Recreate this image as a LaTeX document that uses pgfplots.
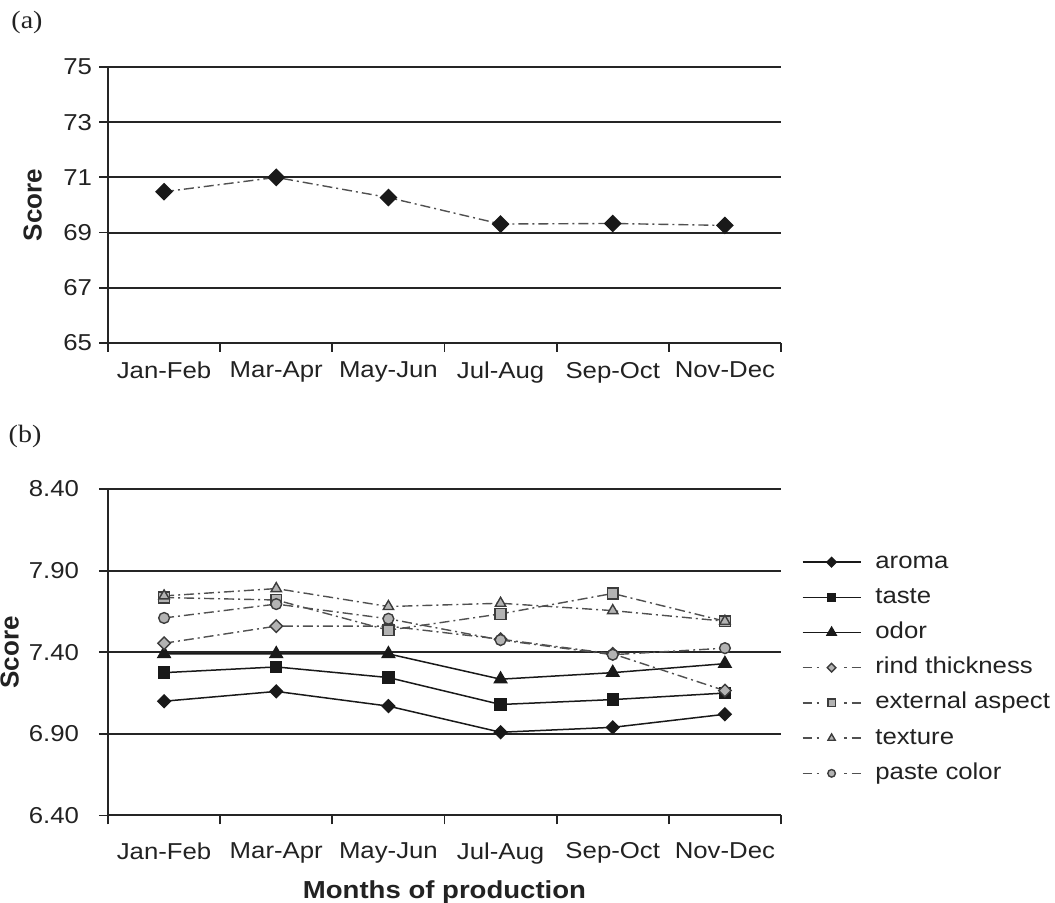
\documentclass[border=0pt]{standalone}
\usepackage{fontspec}
\setmainfont{Liberation Sans}[FakeStretch=1.12]
\newfontfamily\plainsans{Liberation Sans}
\newfontfamily\serifstr{Liberation Serif}[FakeStretch=1.12]
\usepackage{pgfplots}
\pgfplotsset{compat=1.18}

\definecolor{gridc}{HTML}{252525}
\definecolor{ddline}{HTML}{505050}
\definecolor{mfill}{HTML}{B3B3B3}
\definecolor{medge}{HTML}{3C3C3C}
\definecolor{txt}{HTML}{222222}

\pgfplotsset{
  base/.style={
    scale only axis, width=336.5pt,
    xmin=-0.5, xmax=5.5,
    axis x line*=bottom, axis y line*=left,
    axis line style={gridc, line width=1pt, -},
    ymajorgrids, grid style={gridc, line width=1pt},
    xtick={-0.5,0.5,1.5,2.5,3.5,4.5,5.5}, xticklabels={},
    extra x ticks={0,1,2,3,4,5},
    extra x tick labels={Jan-Feb,Mar-Apr,May-Jun,Jul-Aug,Sep-Oct,Nov-Dec},
    tick align=outside, major tick length=4.5pt,
    tick style={gridc, line width=0.9pt},
    tick label style={font=\fontsize{11.5}{13}\selectfont, text=txt},
    /pgf/number format/assume math mode=true,
    ylabel={Score},
    clip=false,
  },
  ddleg/.style={legend image code/.code={
    \draw[##1,solid] (0pt,0pt) -- (4.5pt,0pt);
    \draw[##1,solid] (7pt,0pt) -- (8.2pt,0pt);
    \draw[##1,solid] (20.8pt,0pt) -- (22pt,0pt);
    \draw[##1,solid] (24.5pt,0pt) -- (29pt,0pt);
    \draw[##1,every mark/.append style={scale=0.7}] plot coordinates {(14.5pt,0pt)};
  }},
  solleg/.style={legend image code/.code={
    \draw[##1] (0pt,0pt) -- (29pt,0pt);
    \draw[##1,every mark/.append style={scale=0.75}] plot coordinates {(14.5pt,0pt)};
  }},
  sol/.style={black!90, line width=0.75pt, solid, solleg},
  dd/.style={ddline, line width=0.7pt, dash pattern=on 5pt off 2pt on 1pt off 2pt, ddleg},
}

\begin{document}
\begin{tikzpicture}
\useasboundingbox (0,0) rectangle (527.5pt,451.5pt);

\node[font=\serifstr\fontsize{12.5}{14}\selectfont, text=txt] at (13.5pt,440pt) {(a)};
\node[font=\serifstr\fontsize{12.5}{14}\selectfont, text=txt] at (12.5pt,233pt) {(b)};

\begin{axis}[base, at={(54pt,280pt)}, anchor=south west, height=138pt,
  extra x tick style={major tick length=0pt, tick label style={yshift=-6pt}},
  ylabel style={font=\plainsans\bfseries\fontsize{13}{15}\selectfont, text=txt,
    at={(axis description cs:-0.112,0.5)}, anchor=center},
  ymin=65, ymax=75, ytick={65,67,69,71,73,75}]
\addplot[ddline, line width=0.7pt, dash pattern=on 5pt off 2pt on 1pt off 2pt,
  mark=square*, mark size=2.8pt, mark options={rotate=45, solid, fill=black!90, draw=black!90}]
  coordinates {(0,70.48) (1,71.0) (2,70.27) (3,69.31) (4,69.33) (5,69.26)};
\end{axis}

\begin{axis}[base, at={(54pt,43.75pt)}, anchor=south west, height=163.25pt,
  extra x tick style={major tick length=0pt, tick label style={yshift=-10pt}},
  ylabel style={font=\plainsans\bfseries\fontsize{13}{15}\selectfont, text=txt,
    at={(axis description cs:-0.146,0.5)}, anchor=center},
  ymin=6.4, ymax=8.4, ytick={6.4,6.9,7.4,7.9,8.4},
  yticklabel style={xshift=-6.5pt, /pgf/number format/.cd, fixed, fixed zerofill, precision=2},
  xlabel={Months of production},
  xlabel style={font=\bfseries\fontsize{12.3}{14}\selectfont, text=txt,
    at={(axis description cs:0.5,-0.236)}, anchor=center},
  legend style={at={(axis description cs:1.031,0.825)}, anchor=north west,
    draw=none, fill=none, inner sep=0pt, outer sep=0pt, row sep=1.6pt, column sep=5pt,
    nodes={text height=9pt, text depth=3pt, inner sep=2pt,
      font=\fontsize{11.5}{13}\selectfont, text=txt}},
  legend cell align=left]
\addplot[sol, mark=square*, mark size=2.2pt, mark options={rotate=45, solid, fill=black!90}]
  coordinates {(0,7.10) (1,7.16) (2,7.07) (3,6.91) (4,6.94) (5,7.02)};
\addlegendentry{aroma}
\addplot[sol, mark=square*, mark size=2.7pt, mark options={solid, fill=black!90}]
  coordinates {(0,7.275) (1,7.31) (2,7.245) (3,7.08) (4,7.11) (5,7.15)};
\addlegendentry{taste}
\addplot[sol, mark=triangle*, mark size=3.5pt, mark options={solid, fill=black!90}]
  coordinates {(0,7.39) (1,7.39) (2,7.39) (3,7.235) (4,7.275) (5,7.33)};
\addlegendentry{odor}
\addplot[dd, mark=square*, mark size=2.2pt, mark options={rotate=45, solid, fill=mfill, draw=medge}]
  coordinates {(0,7.455) (1,7.56) (2,7.56) (3,7.48) (4,7.39) (5,7.165)};
\addlegendentry{rind thickness}
\addplot[dd, mark=square*, mark size=2.7pt, mark options={solid, fill=mfill, draw=medge}]
  coordinates {(0,7.735) (1,7.72) (2,7.535) (3,7.635) (4,7.76) (5,7.59)};
\addlegendentry{external aspect}
\addplot[dd, mark=triangle*, mark size=3pt, mark options={solid, fill=mfill, draw=medge}]
  coordinates {(0,7.745) (1,7.79) (2,7.68) (3,7.70) (4,7.655) (5,7.59)};
\addlegendentry{texture}
\addplot[dd, mark=*, mark size=2.7pt, mark options={solid, fill=mfill, draw=medge}]
  coordinates {(0,7.61) (1,7.695) (2,7.605) (3,7.475) (4,7.385) (5,7.425)};
\addlegendentry{paste color}
\end{axis}
\end{tikzpicture}
\end{document}
